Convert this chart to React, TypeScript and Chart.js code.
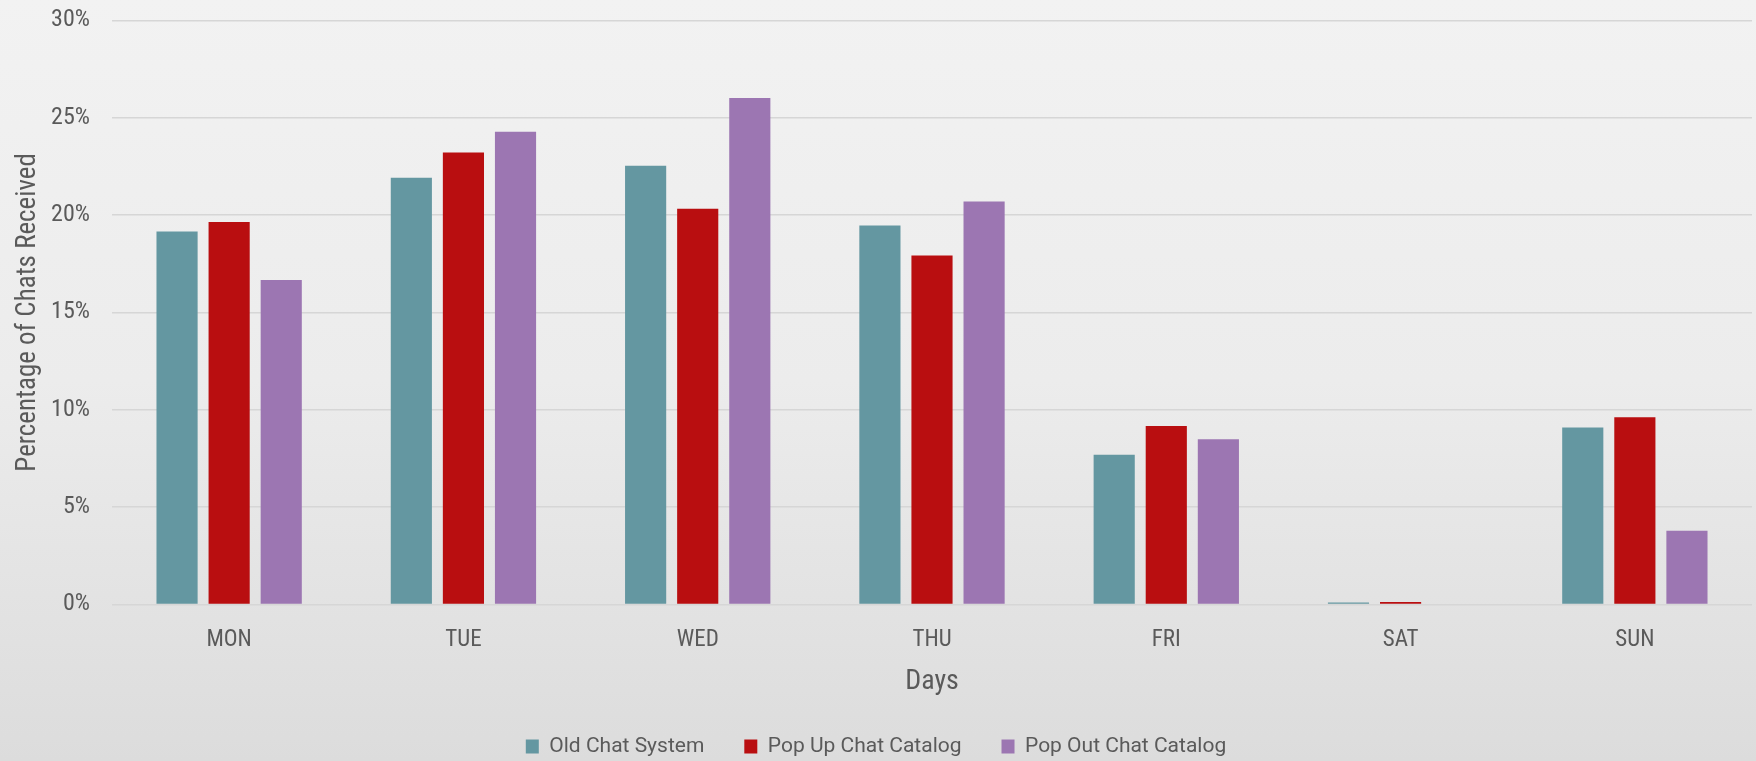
import React, { useEffect, useRef } from "react";
import { Chart, registerables } from "chart.js";

Chart.register(...registerables);

const days = ["MON", "TUE", "WED", "THU", "FRI", "SAT", "SUN"];
const oldChatSystem = [19.16, 21.92, 22.53, 19.47, 7.69, 0.1, 9.09];
const popUpChatCatalog = [19.64, 23.22, 20.32, 17.92, 9.17, 0.12, 9.62];
const popOutChatCatalog = [16.66, 24.28, 26.02, 20.7, 8.49, 0, 3.78];
const yTicks = [0, 5, 10, 15, 20, 25, 30];

const FONT = "'Roboto Condensed', 'Liberation Sans Narrow', 'Roboto', sans-serif";
const LEGEND_FONT = "Roboto, 'Noto Sans', sans-serif";
const TEXT = "#5a5a5a";

export default function App() {
  const ref = useRef<HTMLCanvasElement | null>(null);

  useEffect(() => {
    document.body.style.margin = "0";
    const canvas = ref.current;
    if (!canvas) return;
    const chart = new Chart(canvas, {
      type: "bar",
      data: {
        labels: days,
        datasets: [
          { label: "Old Chat System", data: oldChatSystem, backgroundColor: "#6497a1" },
          { label: "Pop Up Chat Catalog", data: popUpChatCatalog, backgroundColor: "#b90e10" },
          { label: "Pop Out Chat Catalog", data: popOutChatCatalog, backgroundColor: "#9c76b2" },
        ],
      },
      options: {
        animation: false,
        responsive: false,
        maintainAspectRatio: false,
        layout: { padding: { left: 0, right: 4, top: 0, bottom: 0 } },
        datasets: { bar: { categoryPercentage: 0.667, barPercentage: 0.79 } },
        plugins: {
          tooltip: { enabled: false },
          legend: {
            position: "bottom",
            labels: {
              font: { family: LEGEND_FONT, size: 21 },
              color: TEXT,
              boxWidth: 13,
              boxHeight: 14,
              padding: 40,
            },
          },
        },
        scales: {
          x: {
            grid: { display: false, drawTicks: false },
            border: { display: false },
            ticks: { font: { family: FONT, size: 23 }, color: TEXT, padding: 22 },
            title: {
              display: true,
              text: "Days",
              font: { family: FONT, size: 28, lineHeight: 1 },
              color: TEXT,
              padding: { top: -8, bottom: 0 },
            },
          },
          y: {
            min: 0,
            max: 30,
            afterBuildTicks: (scale: any) => {
              scale.ticks = yTicks.map((v) => ({ value: v }));
            },
            afterFit: (scale: any) => {
              scale.width = 112;
            },
            grid: { color: "#d6d6d6", lineWidth: 1.5, drawTicks: false },
            border: { display: false },
            ticks: {
              font: { family: FONT, size: 24 },
              color: TEXT,
              padding: 22,
              callback: (v: any) => v + "%",
            },
            title: {
              display: true,
              text: "Percentage of Chats Received",
              font: { family: FONT, size: 27 },
              color: TEXT,
              padding: { top: 12, bottom: 0 },
            },
          },
        },
      },
    });
    return () => chart.destroy();
  }, []);

  return (
    <div
      style={{
        width: 1756,
        height: 761,
        position: "relative",
        overflow: "hidden",
        background: "linear-gradient(to bottom, #f2f2f2 0%, #ececec 50%, #dcdcdc 100%)",
      }}
    >
      <canvas
        ref={ref}
        width={1756}
        height={783}
        style={{ display: "block", position: "absolute", left: 0, top: -16 }}
      />
    </div>
  );
}
